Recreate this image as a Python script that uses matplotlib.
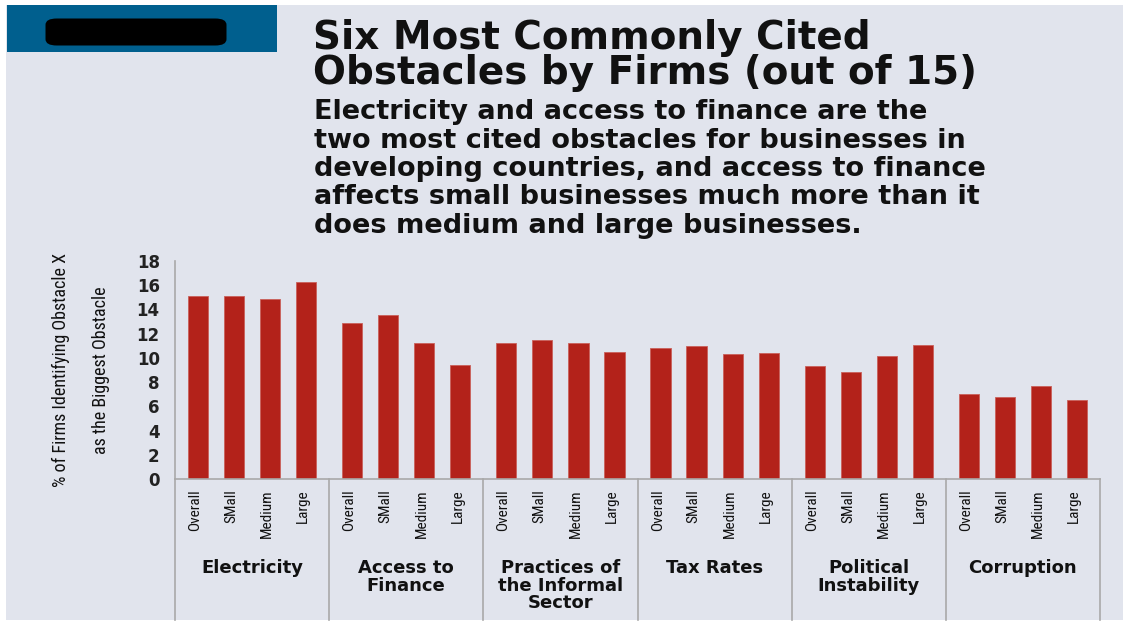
import matplotlib
matplotlib.use("Agg")
import matplotlib.pyplot as plt
from matplotlib import font_manager
from matplotlib.patches import Rectangle, FancyBboxPatch

# ---- data -------------------------------------------------------------
obstacles = ["Electricity", "Access to\nFinance", "Practices of\nthe Informal\nSector",
             "Tax Rates", "Political\nInstability", "Corruption"]
firm_sizes = ["Overall", "SMall", "Medium", "Large"]
overall = [15.1, 12.9, 11.2, 10.85, 9.35, 7.05]
small = [15.1, 13.55, 11.5, 10.95, 8.8, 6.8]
medium = [14.9, 11.25, 11.2, 10.35, 10.15, 7.65]
large = [16.3, 9.4, 10.5, 10.4, 11.1, 6.55]
y_ticks = [0, 2, 4, 6, 8, 10, 12, 14, 16, 18]

title_lines = ["Six Most Commonly Cited", "Obstacles by Firms (out of 15)"]
subtitle_lines = ["Electricity and access to finance are the",
                  "two most cited obstacles for businesses in",
                  "developing countries, and access to finance",
                  "affects small businesses much more than it",
                  "does medium and large businesses."]
y_label_lines = ["% of Firms Identifying Obstacle X", "as the Biggest Obstacle"]

# ---- style ------------------------------------------------------------
W, H = 1123, 626
PANEL = "#e1e4ed"
BAR = "#b3221a"
GRID = "#a9a9a9"
INK = "#111111"

installed = {f.name for f in font_manager.fontManager.ttflist}
NARROW = next((n for n in ["Liberation Sans Narrow", "Roboto Condensed",
                           "Open Sans Condensed", "DejaVu Sans"] if n in installed),
              "DejaVu Sans")
HEAD = "DejaVu Sans"


def fx(px):
    return px / W


def fy(py):
    return 1 - py / H


fig = plt.figure(figsize=(W / 100, H / 100), dpi=100, facecolor="white")

# background panel and header block
fig.patches.append(Rectangle((fx(6), fy(620)), fx(W) - fx(6), fy(5) - fy(620),
                             transform=fig.transFigure, facecolor=PANEL,
                             edgecolor="none", zorder=-2))
fig.patches.append(Rectangle((fx(7), fy(52)), fx(277) - fx(7), fy(5) - fy(52),
                             transform=fig.transFigure, facecolor="#005f8e",
                             edgecolor="none", zorder=-1))
fig.patches.append(FancyBboxPatch((fx(50), fy(43)), fx(222) - fx(50), fy(21) - fy(43),
                                  boxstyle="round,pad=0.004,rounding_size=0.01",
                                  transform=fig.transFigure, facecolor="black",
                                  edgecolor="none", zorder=-1))

# title and subtitle
for i, line in enumerate(title_lines):
    fig.text(fx(313), fy(38 + 35 * i), line, fontsize=28, fontweight="bold",
             family=HEAD, color=INK, va="center", ha="left")
for i, line in enumerate(subtitle_lines):
    fig.text(fx(314), fy(112 + 28.5 * i), line, fontsize=19.5, fontweight="bold",
             family=HEAD, color=INK, va="center", ha="left")

# ---- chart ------------------------------------------------------------
ax = fig.add_axes([fx(175), fy(479), fx(1100) - fx(175), fy(261) - fy(479)])
ax.set_facecolor("none")
ax.set_zorder(3)

group_w = 4.28
first = 0.64
bar_w = 0.56
series = [overall, small, medium, large]
n_groups = len(obstacles)

for s, vals in enumerate(series):
    xs = [g * group_w + first + s for g in range(n_groups)]
    ax.bar(xs, vals, width=bar_w, color=BAR, edgecolor="#c9605a",
           linewidth=0.6, zorder=2)

ax.set_xlim(0, n_groups * group_w)
ax.set_ylim(0, 18)
ax.set_yticks(y_ticks)
ax.set_yticklabels([str(t) for t in y_ticks], fontsize=12, fontweight="bold",
                   family=HEAD, color="#222222")
ax.tick_params(axis="y", length=0, pad=11)
ax.set_xticks([])

for side in ["top", "right"]:
    ax.spines[side].set_visible(False)
for side in ["left", "bottom"]:
    ax.spines[side].set_color(GRID)
    ax.spines[side].set_linewidth(1.2)

# group separators below the axis
xt = ax.get_xaxis_transform()
drop = -(620 - 479) / (479 - 261)
for g in range(n_groups + 1):
    ax.plot([g * group_w, g * group_w], [0, drop], transform=xt, color=GRID,
            linewidth=1.2, clip_on=False, zorder=1)

# firm-size labels and obstacle names
pad_axes = -(489 - 479) / (479 - 261)
name_axes = -(559 - 479) / (479 - 261)
for g, name in enumerate(obstacles):
    for s, size in enumerate(firm_sizes):
        ax.text(g * group_w + first + s - 0.08, pad_axes, size, transform=xt,
                rotation=90, ha="center", va="top", fontsize=11,
                family=NARROW, color=INK)
    ax.text(g * group_w + group_w / 2, name_axes, name, transform=xt,
            ha="center", va="top", fontsize=13, fontweight="bold",
            family=HEAD, color=INK, linespacing=0.98)

for xpix, line in zip([61, 101], y_label_lines):
    fig.text(fx(xpix), fy(370), line, rotation=90, ha="center", va="center",
             fontsize=13, family=NARROW, color=INK)

fig.savefig("out.png", dpi=100, facecolor="white")
